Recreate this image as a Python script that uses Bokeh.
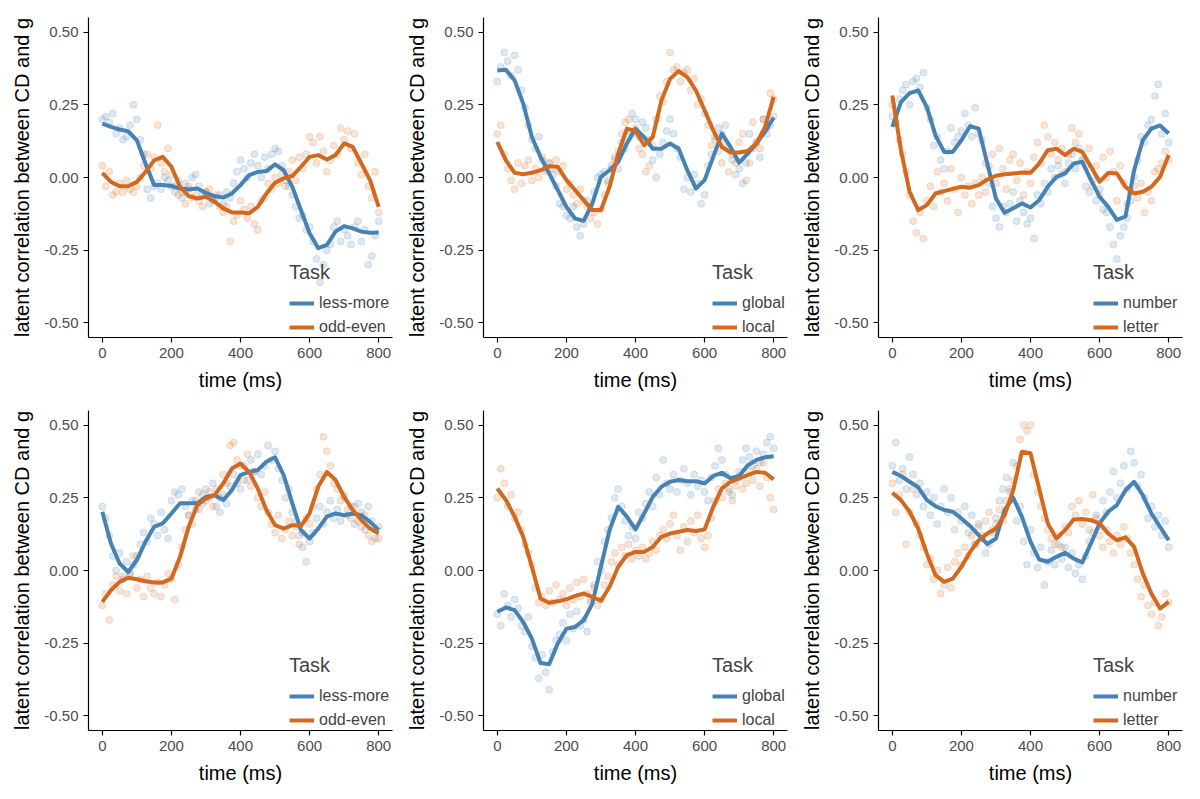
from bokeh.embed import file_html
from bokeh.layouts import gridplot
from bokeh.models import FixedTicker, Legend, LegendItem, PrintfTickFormatter, Range1d
from bokeh.plotting import figure
from bokeh.resources import INLINE

# time grids (ms): raw estimates every 10 ms, smoothed curve every 25 ms
t_raw = list(range(0, 801, 10))
t_fit = list(range(0, 801, 25))

task_labels = [("less-more", "odd-even"), ("global", "local"), ("number", "letter")]

# ---- top row -------------------------------------------------------------
p1_blue_raw = [0.20, 0.21, 0.19, 0.22, 0.15, 0.17, 0.13, 0.14, 0.18, 0.25,
               0.20, 0.13, 0.08, -0.04, -0.07, -0.03, -0.02, -0.04, 0.00, -0.01,
               -0.03, -0.05, -0.01, -0.07, -0.02, -0.04, 0.00, 0.01, -0.03, -0.06,
               -0.05, -0.09, -0.08, -0.07, -0.06, -0.09, -0.05, -0.07, -0.02, 0.02,
               0.06, 0.03, 0.00, 0.05, 0.08, 0.04, 0.00, 0.07, 0.03, 0.08,
               0.10, 0.09, 0.04, -0.01, -0.03, -0.06, -0.10, -0.14, -0.13, -0.18,
               -0.17, -0.22, -0.28, -0.36, -0.30, -0.25, -0.23, -0.17, -0.15, -0.22,
               -0.18, -0.20, -0.23, -0.17, -0.15, -0.22, -0.18, -0.30, -0.27, -0.20,
               -0.15]
p1_orange_raw = [0.04, -0.03, 0.02, -0.06, -0.05, -0.02, -0.05, -0.01, -0.04, -0.05,
                 -0.03, 0.00, 0.04, 0.08, 0.03, 0.07, 0.18, 0.05, 0.02, 0.10,
                 0.01, -0.03, -0.06, -0.05, -0.09, -0.03, -0.07, -0.06, -0.08, -0.10,
                 -0.05, -0.04, -0.07, -0.06, -0.10, -0.12, -0.10, -0.22, -0.15, -0.13,
                 -0.08, -0.11, -0.14, -0.10, -0.16, -0.18, -0.08, -0.07, -0.02, -0.04,
                 0.00, -0.02, 0.01, -0.03, 0.02, 0.06, -0.01, 0.07, 0.03, 0.08,
                 0.14, 0.12, 0.05, 0.14, 0.09, 0.02, 0.06, 0.11, 0.08, 0.17,
                 0.13, 0.16, 0.10, 0.15, 0.05, 0.01, 0.08, -0.03, -0.07, 0.02,
                 -0.12]
p1_blue_fit = [0.185, 0.174, 0.165, 0.159, 0.128, 0.048, -0.026, -0.026, -0.029, -0.038,
               -0.041, -0.038, -0.053, -0.064, -0.069, -0.055, -0.026, 0.008, 0.019, 0.022,
               0.045, 0.025, -0.032, -0.112, -0.192, -0.243, -0.232, -0.186, -0.167, -0.175,
               -0.186, -0.190, -0.189]
p1_orange_fit = [0.016, -0.015, -0.030, -0.030, -0.015, 0.019, 0.059, 0.071, 0.037, -0.032,
                 -0.064, -0.072, -0.066, -0.083, -0.106, -0.120, -0.120, -0.123, -0.101, -0.055,
                 -0.018, -0.003, 0.005, 0.037, 0.071, 0.077, 0.062, 0.077, 0.117, 0.105,
                 0.048, -0.009, -0.101]

p2_blue_raw = [0.33, 0.38, 0.43, 0.40, 0.35, 0.42, 0.37, 0.30, 0.24, 0.18,
               0.13, 0.10, 0.14, 0.06, 0.03, 0.05, 0.01, -0.03, -0.09, -0.10,
               -0.13, -0.14, -0.10, -0.17, -0.20, -0.16, -0.08, -0.10, -0.05, 0.00,
               0.01, 0.02, -0.01, 0.04, 0.07, 0.03, 0.12, 0.10, 0.14, 0.22,
               0.20, 0.14, 0.19, 0.17, 0.13, 0.06, 0.00, 0.08, 0.12, 0.16,
               0.20, 0.15, 0.10, 0.07, -0.04, 0.00, -0.05, 0.01, -0.02, -0.09,
               -0.06, 0.04, 0.08, 0.13, 0.17, 0.15, 0.18, 0.10, 0.06, 0.01,
               0.03, -0.02, 0.05, 0.15, 0.10, 0.12, 0.07, 0.20, 0.15, 0.18,
               0.21]
p2_orange_raw = [0.15, 0.18, 0.08, 0.03, -0.01, -0.04, 0.05, -0.02, 0.04, 0.06,
                 -0.01, 0.03, 0.00, 0.07, 0.02, 0.05, 0.03, 0.06, 0.02, 0.04,
                 -0.04, -0.02, -0.06, -0.09, -0.04, -0.08, -0.10, -0.14, -0.12, -0.16,
                 -0.11, -0.06, -0.02, 0.03, 0.06, 0.09, 0.15, 0.19, 0.20, 0.15,
                 0.17, 0.10, 0.08, 0.02, 0.04, 0.11, 0.20, 0.28, 0.26, 0.33,
                 0.43, 0.37, 0.38, 0.33, 0.36, 0.37, 0.30, 0.34, 0.25, 0.27,
                 0.22, 0.18, 0.11, 0.14, 0.09, 0.05, 0.12, 0.02, 0.08, 0.05,
                 0.12, 0.15, -0.01, 0.05, 0.19, 0.12, 0.10, 0.20, 0.17, 0.29,
                 0.27]
p2_blue_fit = [0.368, 0.370, 0.334, 0.254, 0.139, 0.071, 0.014, -0.043, -0.101, -0.141,
               -0.149, -0.089, 0.002, 0.025, 0.054, 0.117, 0.168, 0.139, 0.099, 0.099,
               0.117, 0.099, 0.025, -0.038, -0.009, 0.071, 0.151, 0.105, 0.051, 0.082,
               0.117, 0.157, 0.206]
p2_orange_fit = [0.122, 0.059, 0.016, 0.011, 0.016, 0.025, 0.039, 0.037, -0.009, -0.043,
                 -0.078, -0.112, -0.112, -0.032, 0.082, 0.168, 0.160, 0.111, 0.139, 0.265,
                 0.339, 0.366, 0.345, 0.299, 0.231, 0.162, 0.105, 0.086, 0.086, 0.091,
                 0.117, 0.174, 0.277]

p3_blue_raw = [0.21, 0.19, 0.27, 0.30, 0.32, 0.25, 0.33, 0.34, 0.31, 0.36,
               0.24, 0.20, 0.11, 0.14, 0.06, 0.03, 0.09, 0.17, 0.12, 0.14,
               0.16, 0.22, 0.18, 0.14, 0.24, 0.15, 0.13, 0.05, -0.02, -0.10,
               -0.14, -0.17, -0.10, -0.12, -0.09, -0.05, -0.15, -0.08, -0.12, -0.16,
               -0.14, -0.21, -0.06, -0.09, -0.02, -0.05, 0.03, 0.00, 0.04, 0.01,
               -0.02, 0.05, 0.08, 0.03, 0.10, 0.06, -0.03, -0.05, -0.01, -0.08,
               -0.04, -0.11, -0.12, -0.17, -0.23, -0.28, -0.20, -0.17, -0.14, -0.08,
               0.00, 0.06, 0.14, 0.12, 0.18, 0.20, 0.28, 0.32, 0.15, 0.22,
               0.12]
p3_orange_raw = [0.25, 0.19, 0.13, 0.08, 0.02, -0.06, -0.15, -0.19, -0.12, -0.21,
                 -0.08, -0.03, -0.10, 0.02, -0.05, -0.02, -0.08, 0.03, -0.04, -0.12,
                 0.00, -0.06, -0.03, -0.09, -0.02, -0.06, 0.00, -0.05, 0.04, 0.08,
                 -0.02, 0.10, 0.03, -0.04, 0.06, 0.08, -0.01, 0.05, -0.06, 0.02,
                 -0.02, 0.07, 0.12, 0.05, 0.18, 0.14, 0.08, 0.12, 0.06, 0.10,
                 0.02, 0.08, 0.17, 0.12, 0.15, 0.06, 0.04, 0.10, -0.03, 0.04,
                 -0.06, 0.07, 0.00, 0.09, 0.02, -0.08, 0.04, -0.02, -0.09, -0.05,
                 -0.03, -0.07, -0.02, -0.12, -0.05, -0.08, 0.02, 0.03, 0.05, 0.09,
                 0.06]
p3_blue_fit = [0.174, 0.259, 0.290, 0.299, 0.242, 0.145, 0.088, 0.088, 0.128, 0.176,
               0.168, 0.048, -0.072, -0.121, -0.106, -0.089, -0.103, -0.078, -0.032, 0.002,
               0.014, 0.048, 0.054, -0.009, -0.066, -0.101, -0.146, -0.134, 0.025, 0.128,
               0.168, 0.179, 0.151]
p3_orange_fit = [0.282, 0.094, -0.049, -0.112, -0.095, -0.055, -0.047, -0.039, -0.032, -0.035,
                 -0.026, -0.007, 0.006, 0.011, 0.014, 0.017, 0.016, 0.048, 0.094, 0.099,
                 0.077, 0.099, 0.088, 0.037, -0.015, 0.016, 0.014, -0.032, -0.055, -0.049,
                 -0.032, 0.002, 0.077]

# ---- bottom row ----------------------------------------------------------
p4_blue_raw = [0.22, 0.18, 0.12, 0.05, 0.00, 0.06, -0.02, 0.03, -0.01, 0.02,
               0.05, 0.09, 0.13, 0.10, 0.18, 0.16, 0.12, 0.20, 0.14, 0.11,
               0.24, 0.27, 0.26, 0.28, 0.22, 0.19, 0.24, 0.21, 0.27, 0.23,
               0.28, 0.25, 0.30, 0.22, 0.20, 0.26, 0.23, 0.29, 0.33, 0.30,
               0.28, 0.36, 0.31, 0.38, 0.34, 0.40, 0.33, 0.36, 0.43, 0.38,
               0.41, 0.35, 0.31, 0.25, 0.28, 0.20, 0.17, 0.12, 0.08, 0.03,
               0.10, 0.13, 0.18, 0.22, 0.16, 0.20, 0.24, 0.18, 0.21, 0.17,
               0.25, 0.19, 0.22, 0.16, 0.23, 0.20, 0.14, 0.22, 0.17, 0.11,
               0.15]
p4_orange_raw = [-0.12, -0.08, -0.17, -0.05, -0.02, -0.07, -0.03, -0.08, -0.01, 0.05,
                 -0.06, -0.03, -0.09, -0.02, -0.06, -0.08, -0.04, -0.09, -0.05, -0.01,
                 -0.03, -0.10, 0.02, 0.08, 0.14, 0.19, 0.16, 0.24, 0.21, 0.26,
                 0.24, 0.27, 0.22, 0.28, 0.25, 0.33, 0.30, 0.43, 0.44, 0.38,
                 0.36, 0.31, 0.40, 0.29, 0.34, 0.25, 0.22, 0.27, 0.20, 0.16,
                 0.13, 0.19, 0.11, 0.14, 0.17, 0.12, 0.15, 0.09, 0.13, 0.18,
                 0.16, 0.22, 0.28, 0.33, 0.46, 0.41, 0.36, 0.30, 0.28, 0.24,
                 0.26, 0.21, 0.18, 0.22, 0.17, 0.15, 0.19, 0.12, 0.10, 0.14,
                 0.11]
p4_blue_fit = [0.202, 0.093, 0.024, -0.005, 0.036, 0.099, 0.150, 0.162, 0.196, 0.231,
               0.231, 0.231, 0.253, 0.259, 0.242, 0.276, 0.328, 0.339, 0.345, 0.374,
               0.389, 0.328, 0.231, 0.139, 0.110, 0.144, 0.185, 0.196, 0.190, 0.196,
               0.190, 0.167, 0.139]
p4_orange_fit = [-0.108, -0.068, -0.039, -0.025, -0.030, -0.037, -0.041, -0.041, -0.028, 0.047,
                 0.150, 0.225, 0.248, 0.259, 0.299, 0.351, 0.368, 0.339, 0.282, 0.208,
                 0.156, 0.144, 0.156, 0.153, 0.196, 0.288, 0.339, 0.311, 0.253, 0.208,
                 0.173, 0.144, 0.127]

p5_blue_raw = [-0.15, -0.19, -0.08, -0.12, -0.16, -0.10, -0.13, -0.19, -0.21, -0.16,
               -0.26, -0.30, -0.37, -0.29, -0.35, -0.41, -0.28, -0.24, -0.22, -0.18,
               -0.24, -0.15, -0.20, -0.14, -0.19, -0.17, -0.21, -0.10, -0.05, 0.03,
               0.00, 0.10, 0.14, 0.18, 0.25, 0.28, 0.22, 0.17, 0.12, 0.15,
               0.11, 0.20, 0.18, 0.23, 0.27, 0.22, 0.32, 0.26, 0.38, 0.30,
               0.28, 0.33, 0.27, 0.31, 0.35, 0.30, 0.26, 0.33, 0.29, 0.31,
               0.27, 0.24, 0.32, 0.36, 0.42, 0.38, 0.33, 0.28, 0.26, 0.31,
               0.34, 0.38, 0.42, 0.39, 0.36, 0.41, 0.37, 0.40, 0.44, 0.46,
               0.42]
p5_orange_raw = [0.25, 0.35, 0.30, 0.22, 0.26, 0.18, 0.20, 0.14, 0.09, 0.06,
                 0.02, -0.06, -0.11, -0.09, -0.12, -0.07, -0.11, -0.05, -0.10, -0.08,
                 -0.12, -0.06, -0.10, -0.04, -0.09, -0.03, -0.08, -0.11, -0.06, -0.12,
                 -0.10, -0.05, -0.02, 0.03, 0.06, 0.02, 0.08, 0.05, 0.09, 0.04,
                 0.07, 0.05, 0.08, 0.04, 0.06, 0.10, 0.07, 0.12, 0.14, 0.11,
                 0.16, 0.19, 0.12, 0.07, 0.15, 0.10, 0.17, 0.13, 0.19, 0.11,
                 0.08, 0.12, 0.18, 0.24, 0.28, 0.25, 0.30, 0.27, 0.24, 0.29,
                 0.32, 0.28, 0.30, 0.34, 0.31, 0.35, 0.29, 0.37, 0.32, 0.25,
                 0.21]
p5_blue_fit = [-0.142, -0.127, -0.136, -0.177, -0.234, -0.318, -0.322, -0.251, -0.200, -0.194,
               -0.171, -0.114, 0.013, 0.139, 0.219, 0.185, 0.141, 0.196, 0.253, 0.288,
               0.305, 0.311, 0.307, 0.307, 0.299, 0.325, 0.336, 0.317, 0.325, 0.362,
               0.380, 0.389, 0.393]
p5_orange_fit = [0.282, 0.242, 0.185, 0.116, 0.013, -0.096, -0.111, -0.106, -0.099, -0.087,
                 -0.079, -0.091, -0.104, -0.056, 0.013, 0.053, 0.064, 0.064, 0.081, 0.116,
                 0.127, 0.133, 0.139, 0.136, 0.141, 0.219, 0.282, 0.305, 0.317, 0.328,
                 0.339, 0.336, 0.313]

p6_blue_raw = [0.36, 0.44, 0.31, 0.35, 0.28, 0.39, 0.33, 0.26, 0.30, 0.22,
               0.27, 0.19, 0.25, 0.16, 0.22, 0.28, 0.20, 0.25, 0.14, 0.20,
               0.17, 0.22, 0.13, 0.19, 0.09, 0.16, 0.12, 0.06, 0.09, 0.14,
               0.18, 0.24, 0.28, 0.32, 0.27, 0.37, 0.17, 0.22, 0.10, 0.02,
               0.14, 0.06, 0.01, 0.08, -0.05, 0.03, 0.07, 0.02, 0.09, 0.04,
               0.08, 0.01, 0.06, -0.01, 0.02, -0.03, 0.05, 0.10, 0.13, 0.19,
               0.15, 0.24, 0.20, 0.27, 0.34, 0.25, 0.30, 0.36, 0.28, 0.41,
               0.37, 0.29, 0.33, 0.25, 0.18, 0.22, 0.15, 0.19, 0.12, 0.17,
               0.08]
p6_orange_raw = [0.30, 0.20, 0.26, 0.33, 0.09, 0.20, 0.28, 0.16, 0.12, 0.08,
                 0.02, 0.04, -0.03, 0.00, -0.08, -0.05, 0.01, -0.06, 0.03, 0.06,
                 0.02, 0.08, 0.05, 0.12, 0.09, 0.15, 0.11, 0.17, 0.20, 0.13,
                 0.16, 0.21, 0.17, 0.24, 0.28, 0.31, 0.36, 0.45, 0.50, 0.48,
                 0.50, 0.33, 0.27, 0.22, 0.18, 0.14, 0.11, 0.09, 0.12, 0.08,
                 0.15, 0.13, 0.22, 0.19, 0.24, 0.16, 0.20, 0.14, 0.26, 0.18,
                 0.12, 0.08, 0.14, 0.10, 0.06, 0.12, 0.09, 0.15, 0.11, 0.06,
                 0.02, -0.03, -0.09, -0.05, -0.12, -0.15, -0.11, -0.19, -0.16, -0.08,
                 -0.11]
p6_blue_fit = [0.339, 0.325, 0.305, 0.286, 0.242, 0.221, 0.208, 0.202, 0.179, 0.153,
               0.122, 0.091, 0.110, 0.208, 0.250, 0.185, 0.099, 0.038, 0.030, 0.047,
               0.061, 0.041, 0.028, 0.093, 0.162, 0.202, 0.225, 0.276, 0.305, 0.259,
               0.196, 0.150, 0.104]
p6_orange_fit = [0.267, 0.242, 0.202, 0.144, 0.058, -0.016, -0.039, -0.028, 0.013, 0.064,
                 0.104, 0.127, 0.144, 0.190, 0.276, 0.408, 0.403, 0.282, 0.162, 0.110,
                 0.139, 0.175, 0.177, 0.173, 0.162, 0.127, 0.104, 0.114, 0.081, -0.010,
                 -0.079, -0.131, -0.108]

panels = [
    (p1_blue_raw, p1_orange_raw, p1_blue_fit, p1_orange_fit, task_labels[0]),
    (p2_blue_raw, p2_orange_raw, p2_blue_fit, p2_orange_fit, task_labels[1]),
    (p3_blue_raw, p3_orange_raw, p3_blue_fit, p3_orange_fit, task_labels[2]),
    (p4_blue_raw, p4_orange_raw, p4_blue_fit, p4_orange_fit, task_labels[0]),
    (p5_blue_raw, p5_orange_raw, p5_blue_fit, p5_orange_fit, task_labels[1]),
    (p6_blue_raw, p6_orange_raw, p6_blue_fit, p6_orange_fit, task_labels[2]),
]

BLUE = "#4682B4"
ORANGE = "#D2691E"
FONT = "Liberation Sans"
# legend offset from the frame's left edge, shifted so labels stay inside the frame
legend_x = [201, 229, 215]


def make_panel(i, blue_raw, orange_raw, blue_fit, orange_fit, labels):
    assert len(blue_raw) == len(t_raw) and len(orange_raw) == len(t_raw)
    assert len(blue_fit) == len(t_fit) and len(orange_fit) == len(t_fit)
    first_col = i % 3 == 0
    top_row = i < 3
    p = figure(width=403 if first_col else 395, height=400 if top_row else 392,
               output_backend="svg", toolbar_location=None,
               x_range=Range1d(-40, 840), y_range=Range1d(-0.55, 0.55),
               min_border_left=88 if first_col else 80, min_border_right=11,
               min_border_top=17 if top_row else 10, min_border_bottom=63 if top_row else 62)
    p.outline_line_color = None
    p.grid.visible = False

    p.scatter(t_raw, blue_raw, size=7, color=BLUE, alpha=0.18)
    p.scatter(t_raw, orange_raw, size=7, color=ORANGE, alpha=0.18)
    r_blue = p.line(t_fit, blue_fit, line_color=BLUE, line_width=4, line_join="round")
    r_orange = p.line(t_fit, orange_fit, line_color=ORANGE, line_width=4, line_join="round")

    p.xaxis.ticker = FixedTicker(ticks=[0, 200, 400, 600, 800])
    p.yaxis.ticker = FixedTicker(ticks=[-0.5, -0.25, 0, 0.25, 0.5])
    p.yaxis.formatter = PrintfTickFormatter(format="%.2f")
    p.xaxis.axis_label = "time (ms)"
    p.yaxis.axis_label = "latent correlation between CD and g"
    for ax in (p.xaxis, p.yaxis):
        ax.axis_line_color = "black"
        ax.axis_line_width = 1.2
        ax.major_tick_line_color = "black"
        ax.major_tick_line_width = 1.2
        ax.major_tick_out = 5
        ax.major_tick_in = 0
        ax.minor_tick_line_color = None
        ax.major_label_text_font = FONT
        ax.major_label_text_font_size = "15px"
        ax.major_label_text_color = "#4D4D4D"
        ax.major_label_standoff = 5
        ax.axis_label_text_font = FONT
        ax.axis_label_text_font_size = "20px"
        ax.axis_label_text_font_style = "normal"
        ax.axis_label_text_color = "black"
        ax.axis_label_standoff = 8

    legend = Legend(
        items=[LegendItem(label=labels[0], renderers=[r_blue]),
               LegendItem(label=labels[1], renderers=[r_orange])],
        title="Task", location=(legend_x[i % 3], 0),
        title_text_font=FONT, title_text_font_size="20px", title_text_font_style="normal",
        label_text_font=FONT, label_text_font_size="16px",
        padding=0, margin=0, spacing=4, glyph_width=25, glyph_height=20,
        label_height=20, label_standoff=5, title_standoff=9,
        background_fill_alpha=0, border_line_alpha=0,
    )
    p.add_layout(legend)
    return p


figs = [make_panel(i, *panel) for i, panel in enumerate(panels)]
grid = gridplot(figs, ncols=3, toolbar_location=None)

open("out.html", "w").write(file_html(grid, INLINE))
